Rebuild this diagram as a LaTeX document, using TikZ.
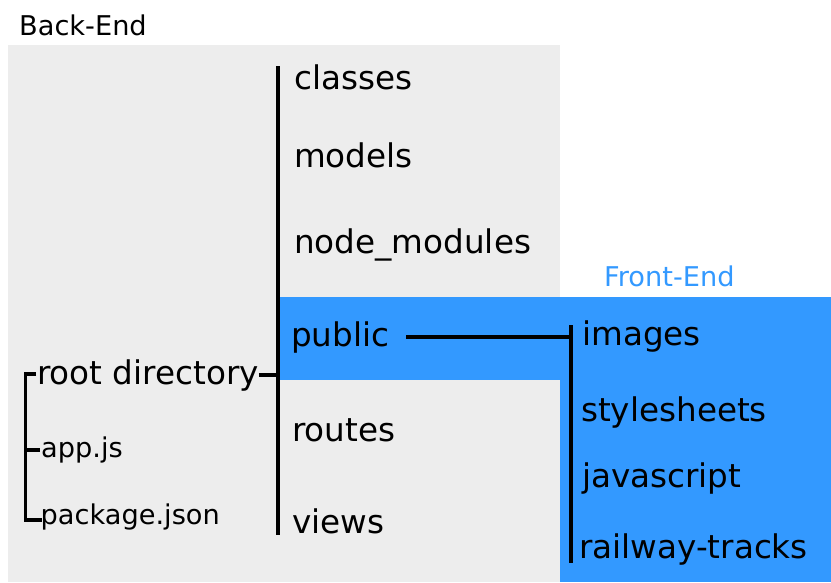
\documentclass[tikz,border=0pt]{standalone}
\usepackage{fontspec}
\setmainfont{DejaVu Sans}
\definecolor{backgray}{HTML}{EDEDED}
\definecolor{frontblue}{HTML}{3399FF}
\tikzset{dir/.style={anchor=base west, inner sep=0pt, font=\fontsize{32.6}{37}\selectfont}}
\tikzset{file/.style={anchor=base west, inner sep=0pt, font=\fontsize{27.2}{31}\selectfont}}
\tikzset{branch/.style={line width=3.4pt}}

\begin{document}
\begin{tikzpicture}[x=1pt, y=-1pt]
            \useasboundingbox (0, 0) rectangle (831, 582);
            % back-end and front-end areas
            \fill[backgray] (8, 45) rectangle (560, 582);
            \fill[frontblue] (280, 297) rectangle (831, 380);
            \fill[frontblue] (560, 297) rectangle (831, 582);
            \node[file] (backend) at (19, 35) {Back-End};
            \node[file, text=frontblue] (frontend) at (604, 286) {Front-End};
            % root level
            \node[dir] (root) at (37, 384) {root directory};
            \node[file] (appjs) at (41, 457) {app.js};
            \node[file] (pkgjson) at (40.5, 524) {package.json};
            % sub folders
            \node[dir] (classes) at (294, 89) {classes};
            \node[dir] (models) at (294, 167) {models};
            \node[dir] (nodemodules) at (294, 253) {node\_modules};
            \node[dir] (public) at (291, 346) {public};
            \node[dir] (routes) at (292, 441) {routes};
            \node[dir] (views) at (292, 533) {views};
            % inside public
            \node[dir] (images) at (582, 345) {images};
            \node[dir] (stylesheets) at (581, 421) {stylesheets};
            \node[dir] (javascript) at (582, 487) {javascript};
            \node[dir] (railway) at (579, 558) {railway-tracks};
            % tree lines
            \coordinate (trunktop) at (278, 66);
            \coordinate (trunkbot) at (278, 535);
            \coordinate (pubtop) at (571, 325);
            \coordinate (pubbot) at (571, 563);
            \coordinate (roottop) at (25.5, 374);
            \coordinate (rootbot) at (25.5, 520);
            \draw[branch] (trunktop) -- (trunkbot);
            \draw[branch] (root.east) -- (root.east -| trunktop);
            \draw[branch] ([xshift=17pt]public.east) -- (public.east -| pubtop);
            \draw[branch] (pubtop) -- (pubbot);
            \draw[branch] ([xshift=-1pt]root.west |- roottop) -- (roottop) -- (rootbot) -- ([xshift=1pt]pkgjson.west |- rootbot);
            \draw[branch] (roottop |- 0, 450) -- ([xshift=-1pt]appjs.west |- 0, 450);
        \end{tikzpicture}
\end{document}
